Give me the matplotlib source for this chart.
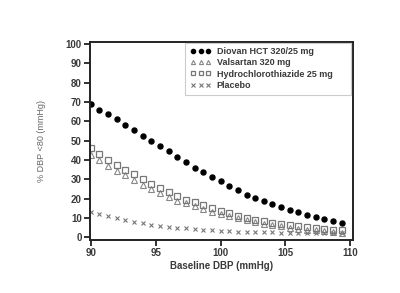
import numpy as np
import matplotlib
matplotlib.use("Agg")
import matplotlib.pyplot as plt
from matplotlib.patches import Rectangle

plt.rcParams['font.family'] = ['Liberation Sans Narrow', 'Liberation Sans', 'DejaVu Sans']

baseline_dbp = [90 + 2 * i / 3 for i in range(30)]

diovan = [69, 66, 63.5, 61, 58, 55.5, 52.5, 50, 47, 44.5, 41.5, 39, 36, 33.5, 31,
          29, 26.5, 24.5, 22, 20.5, 18.5, 17, 15.5, 14, 13, 11.5, 10.5, 9.5, 8.5, 7.5]
hct = [46, 43, 40, 37.5, 35, 32.5, 30, 27.5, 25.5, 23.5, 21.5, 19.5, 18, 16.5, 15,
       13.5, 12.5, 11, 10, 9, 8.5, 7.5, 7, 6.5, 6, 5.5, 5, 4.5, 4, 3.5]
valsartan = [42.5, 40, 37, 34.5, 32, 29.5, 27, 25, 23, 21, 19, 17.5, 16, 14.5, 13,
             12, 11, 10, 9, 8, 7, 6.5, 6, 5, 4.5, 4, 3.5, 3, 2.5, 2]
placebo = [13.3, 12, 11, 9.8, 8.9, 8.1, 7.3, 6.6, 6.0, 5.5, 5.0, 4.6, 4.2, 3.8, 3.5,
           3.2, 3.0, 2.9, 2.8, 2.7, 2.6, 2.5, 2.4, 2.3, 2.3, 2.2, 2.2, 2.1, 2.1, 2.0]

labels = ["Diovan HCT 320/25 mg", "Valsartan 320 mg", "Hydrochlorothiazide 25 mg", "Placebo"]
xticks = [90, 95, 100, 105, 110]
yticks = [0, 10, 20, 30, 40, 50, 60, 70, 80, 90, 100]

gray = '#777777'
txt = '#3a3a3a'

fig = plt.figure(figsize=(4.0, 2.93), dpi=100)
ax = fig.add_axes([0.225, 0.181, 0.6575, 0.677])

h1, = ax.plot(baseline_dbp, diovan, 'o', color='black', markersize=3.6, linestyle='none')
h2, = ax.plot(baseline_dbp, valsartan, '^', markerfacecolor='none', markeredgecolor='#888888',
              markersize=3.8, markeredgewidth=0.8, linestyle='none')
h3, = ax.plot(baseline_dbp, hct, 's', markerfacecolor='none', markeredgecolor=gray,
              markersize=3.8, markeredgewidth=0.9, linestyle='none')
h4, = ax.plot(baseline_dbp, placebo, 'x', color=gray, markersize=3.4,
              markeredgewidth=0.8, linestyle='none')

ax.set_xlim(89.95, 110.2)
ax.set_ylim(-1.4, 101.2)
ax.set_xticks(xticks)
ax.set_yticks(yticks)
ax.tick_params(direction='out', length=4, width=1.3, colors='#222222',
               labelsize=7, labelcolor=txt, pad=2)
for lab in ax.get_xticklabels() + ax.get_yticklabels():
    lab.set_fontweight('bold')
for sp in ax.spines.values():
    sp.set_linewidth(1.4)
    sp.set_color('#222222')

ax.set_xlabel("Baseline DBP (mmHg)", fontsize=7, fontweight='bold', color=txt, labelpad=2)
ax.set_ylabel("% DBP <80 (mmHg)", fontsize=6.5, color='#666666', labelpad=14)

# legend box
ax.add_patch(Rectangle((0.361, 0.731), 0.632, 0.262, transform=ax.transAxes,
                       facecolor='white', edgecolor='#cccccc', linewidth=0.8, zorder=4))
leg = ax.legend([h1, h2, h3, h4], labels, loc='upper left', numpoints=3,
                fontsize=6.5, frameon=False,
                bbox_to_anchor=(0.361, 1.0), borderaxespad=0.0, handlelength=2.3,
                handletextpad=0.6, labelspacing=0.25, borderpad=0.6)
leg.set_zorder(5)
for hnd in leg.legend_handles:
    hnd.set_markersize(3.0)
for t in leg.get_texts():
    t.set_fontweight('bold')
    t.set_color(txt)

fig.savefig("out.png", dpi=100)
